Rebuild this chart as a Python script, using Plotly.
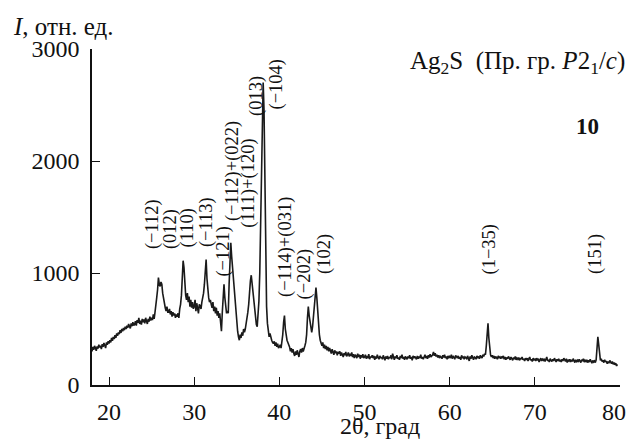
import numpy as np
import plotly.graph_objects as go

# 2theta from 18.0 in 0.1 degree steps
two_theta_start = 18.0
two_theta_step = 0.1
intensity_rows = [
    [300, 340, 315, 350, 330, 305, 345, 325, 360, 335],   # 18
    [350, 320, 365, 340, 375, 350, 330, 380, 360, 390],   # 19
    [370, 400, 380, 420, 395, 430, 410, 445, 420, 460],   # 20
    [440, 470, 455, 490, 465, 500, 480, 510, 490, 520],   # 21
    [500, 530, 510, 545, 520, 505, 550, 525, 560, 530],   # 22
    [540, 570, 530, 580, 555, 600, 545, 575, 540, 590],   # 23
    [560, 585, 550, 600, 570, 545, 590, 565, 610, 575],   # 24
    [600, 580, 630, 590, 650, 700, 780, 850, 960, 900],   # 25
    [880, 920, 900, 820, 760, 720, 690, 660, 700, 650],   # 26
    [650, 680, 630, 660, 610, 650, 620, 640, 600, 630],   # 27
    [610, 640, 600, 680, 720, 800, 950, 1110, 1050, 880], # 28
    [800, 760, 820, 740, 790, 700, 760, 690, 740, 680],   # 29
    [700, 760, 660, 730, 690, 640, 720, 700, 680, 740],   # 30
    [780, 820, 900, 1050, 1120, 950, 820, 780, 740, 760], # 31
    [720, 690, 740, 660, 700, 640, 690, 620, 660, 600],   # 32
    [640, 580, 480, 650, 750, 900, 780, 680, 640, 660],   # 33
    [640, 900, 1150, 1270, 1150, 1050, 980, 850, 700, 600],  # 34
    [550, 480, 430, 400, 450, 420, 470, 440, 500, 470],   # 35
    [500, 540, 600, 650, 720, 850, 930, 980, 900, 880],   # 36
    [760, 650, 580, 540, 520, 600, 750, 1000, 1500, 2100],  # 37
    [2500, 2700, 2450, 1800, 1100, 700, 550, 480, 430, 460],  # 38
    [420, 400, 380, 370, 390, 350, 380, 340, 370, 330],   # 39
    [340, 360, 330, 380, 450, 560, 620, 500, 430, 400],   # 40
    [380, 360, 340, 300, 330, 290, 320, 280, 260, 300],   # 41
    [270, 310, 280, 250, 300, 320, 290, 330, 300, 340],   # 42
    [350, 380, 450, 600, 700, 620, 560, 500, 470, 520],   # 43
    [600, 720, 820, 870, 780, 650, 520, 450, 400, 370],   # 44
    [350, 380, 330, 360, 320, 350, 310, 340, 300, 330],   # 45
    [310, 280, 320, 295, 270, 310, 285, 300, 265, 295],   # 46
    [280, 300, 260, 290, 270, 250, 285, 265, 295, 255],   # 47
    [270, 290, 255, 280, 260, 290, 250, 275, 240, 270],   # 48
    [260, 240, 280, 250, 270, 235, 265, 245, 275, 240],   # 49
    [250, 270, 235, 260, 240, 275, 230, 255, 245, 265],   # 50
    [240, 260, 225, 255, 235, 270, 245, 230, 260, 240],   # 51
    [250, 230, 265, 240, 220, 255, 235, 260, 230, 250],   # 52
    [240, 265, 230, 280, 245, 225, 255, 240, 265, 235],   # 53
    [245, 225, 260, 240, 270, 235, 250, 225, 255, 240],   # 54
    [230, 255, 240, 265, 235, 250, 220, 260, 240, 255],   # 55
    [245, 230, 260, 235, 255, 240, 270, 235, 250, 230],   # 56
    [250, 270, 240, 260, 235, 265, 245, 275, 250, 260],   # 57
    [270, 295, 260, 285, 255, 270, 245, 265, 240, 260],   # 58
    [250, 235, 265, 245, 270, 240, 255, 230, 260, 245],   # 59
    [255, 240, 270, 235, 260, 245, 230, 265, 250, 240],   # 60
    [260, 235, 250, 225, 265, 240, 255, 230, 250, 245],   # 61
    [235, 260, 240, 215, 255, 235, 265, 240, 225, 250],   # 62
    [245, 230, 260, 240, 255, 235, 265, 250, 240, 270],   # 63
    [255, 280, 270, 350, 480, 550, 420, 300, 270, 250],   # 64
    [265, 240, 260, 235, 255, 245, 230, 260, 240, 250],   # 65
    [235, 255, 240, 260, 230, 250, 225, 245, 235, 255],   # 66
    [240, 225, 250, 235, 220, 245, 230, 255, 225, 240],   # 67
    [230, 245, 220, 240, 230, 250, 225, 235, 215, 240],   # 68
    [225, 240, 215, 235, 250, 220, 230, 210, 240, 225],   # 69
    [230, 215, 240, 220, 235, 205, 225, 240, 215, 230],   # 70
    [220, 235, 210, 230, 250, 215, 225, 205, 235, 220],   # 71
    [210, 230, 215, 240, 220, 205, 230, 215, 235, 210],   # 72
    [225, 205, 230, 215, 240, 220, 210, 235, 200, 225],   # 73
    [215, 230, 205, 225, 210, 235, 215, 200, 225, 210],   # 74
    [220, 205, 230, 210, 200, 225, 215, 235, 205, 220],   # 75
    [210, 225, 200, 220, 205, 230, 210, 195, 220, 205],   # 76
    [215, 200, 225, 310, 430, 360, 260, 220, 235, 210],   # 77
    [220, 200, 225, 205, 215, 190, 210, 195, 220, 200],   # 78
    [190, 210, 185, 200, 180, 195, 170, 185],             # 79
]

peak_labels = ["(−112)", "(012)", "(110)", "(−113)", "(−121)", "(−112)+(022)",
               "(111)+(120)", "(013)", "(−104)", "(−114)+(031)", "(−202)",
               "(102)", "(1−35)", "(151)"]
label_x = [25.05, 27.16, 29.27, 31.39, 33.5, 34.44, 36.43, 37.37, 39.72,
           40.78, 43.0, 45.24, 64.73, 77.06]
label_base = [1205, 1205, 1223, 1223, 955, 1455, 1400, 2393, 2455,
              777, 759, 982, 982, 982]

x_ticks = [20, 30, 40, 50, 60, 70, 80]
# last label padded with an en space so it stays inside the page edge
x_tick_labels = ["20", "30", "40", "50", "60", "70", "80\u2002"]
y_ticks = [0, 1000, 2000, 3000]

intensity = [v for row in intensity_rows for v in row]
two_theta = [round(two_theta_start + i * two_theta_step, 1) for i in range(len(intensity))]

FONT = "Liberation Serif"
INK = "#111"

fig = go.Figure()
fig.add_trace(go.Scatter(x=two_theta, y=intensity, mode="lines",
                         line=dict(color="#1a1a1a", width=1.6),
                         hoverinfo="skip", showlegend=False))

for txt, lx, lb in zip(peak_labels, label_x, label_base):
    fig.add_annotation(x=lx, y=lb, xref="x", yref="y", text=txt, textangle=-90,
                       showarrow=False, xanchor="center", yanchor="bottom",
                       font=dict(family=FONT, size=18.5, color=INK), borderpad=0)

# plot area in page pixels: x 92..620, y 49..385 (page has an 8px body margin)
def px_x(p):
    return (p - 92) / 528

def px_y(p):
    return (385 - p) / 336

fig.add_annotation(x=px_x(11), y=px_y(26), xref="paper", yref="paper",
                   text="<i>I</i>, отн. ед.", showarrow=False,
                   xanchor="left", yanchor="middle",
                   font=dict(family=FONT, size=25, color=INK))
fig.add_annotation(x=px_x(627), y=px_y(63), xref="paper", yref="paper",
                   text="Ag<sub>2</sub>S\u00a0\u00a0(Пр. гр. <i>P</i>2<sub>1</sub>/<i>c</i>)",
                   showarrow=False, xanchor="right", yanchor="middle",
                   font=dict(family=FONT, size=25, color=INK))
fig.add_annotation(x=px_x(587), y=px_y(127), xref="paper", yref="paper",
                   text="<b>10</b>", showarrow=False, xanchor="center", yanchor="middle",
                   font=dict(family=FONT, size=23, color=INK))
fig.add_annotation(x=px_x(380), y=px_y(426), xref="paper", yref="paper",
                   text="2θ, град", showarrow=False, xanchor="center", yanchor="middle",
                   font=dict(family=FONT, size=24, color=INK))

# figure + 8px body margins fits the 635x447 window without scrolling
fig.update_layout(
    width=619, height=431,
    margin=dict(l=84, r=7, t=41, b=54, autoexpand=False),
    paper_bgcolor="white", plot_bgcolor="white",
    font=dict(family=FONT, size=24, color=INK),
    xaxis=dict(range=[18, 80], tickvals=x_ticks, ticktext=x_tick_labels,
               ticks="inside", ticklen=8, automargin=False,
               tickwidth=1.3, tickcolor=INK, showline=True, linecolor=INK,
               linewidth=1.5, showgrid=False, zeroline=False, ticklabelstandoff=4,
               ticklabeloverflow="allow",
               tickfont=dict(family=FONT, size=24, color=INK)),
    yaxis=dict(range=[0, 3000], tickvals=y_ticks, ticks="inside", ticklen=8,
               automargin=False,
               tickwidth=1.3, tickcolor=INK, showline=True, linecolor=INK,
               linewidth=1.5, showgrid=False, zeroline=False, ticklabelstandoff=6,
               tickfont=dict(family=FONT, size=24, color=INK)),
)

fig.write_html("out.html")
